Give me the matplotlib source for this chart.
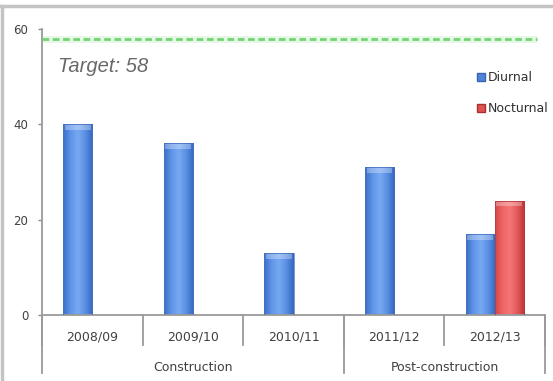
import numpy as np
import matplotlib
matplotlib.use("Agg")
import matplotlib.pyplot as plt
from matplotlib.colors import LinearSegmentedColormap
from matplotlib.patches import Patch
from matplotlib.lines import Line2D

# Datos del gráfico
seasons = ["2008/09", "2009/10", "2010/11", "2011/12", "2012/13"]
phases = ["Construction", "Post-construction"]
phase_span = [3, 2]  # número de temporadas en cada fase
diurnal = [40, 36, 13, 31, 17]
nocturnal = [np.nan, np.nan, np.nan, np.nan, 24]
target = 58

plt.rcParams['font.family'] = ['DejaVu Sans']

fig = plt.figure(figsize=(5.53, 3.81), dpi=100)
ax = fig.add_axes([0.076, 0.1732, 0.9095, 0.7507])

x = np.arange(len(seasons))
width = 0.29

blue_cmap = LinearSegmentedColormap.from_list(
    "azul", ["#3a6ec9", "#5f95e8", "#78a9f2", "#5a8fe2", "#3467c0"])
red_cmap = LinearSegmentedColormap.from_list(
    "rojo", ["#d24848", "#ef6464", "#f47676", "#e55858", "#b83434"])


def gradient_bars(bars, cmap):
    # Relleno con degradado horizontal recortado a cada barra
    grad = np.linspace(0, 1, 64).reshape(1, -1)
    for b in bars:
        h = b.get_height()
        if not np.isfinite(h) or h <= 0:
            continue
        x0 = b.get_x()
        w = b.get_width()
        im = ax.imshow(grad, cmap=cmap, aspect="auto",
                       extent=[x0, x0 + w, 0, h], zorder=2)
        im.set_clip_path(b)
        # brillo en la parte superior
        cap = min(1.2, h * 0.3)
        ax.fill_between([x0 + w * 0.06, x0 + w * 0.94], h - cap, h - 0.2,
                        color="white", alpha=0.3, lw=0, zorder=3)


bars_d = ax.bar(x - width / 2, diurnal, width, color="none",
                edgecolor="#4a72b8", linewidth=0.5, zorder=4)
bars_n = ax.bar(x + width / 2, nocturnal, width, color="none",
                edgecolor="#b03a3a", linewidth=0.5, zorder=4)
gradient_bars(bars_d, blue_cmap)
gradient_bars(bars_n, red_cmap)

# Línea de objetivo
ax.axhline(target, xmin=0, xmax=0.985, color="#d4f4d4", lw=5,
           alpha=0.6, zorder=1, solid_capstyle="butt")
ax.axhline(target, xmin=0, xmax=0.985, color="#72d472", lw=2,
           linestyle=(0, (2.4, 1.3)), zorder=5)
ax.text(-0.34, target - 7, f"Target: {target}", fontsize=14.5,
        style="italic", color="#686868", family="Liberation Sans",
        va="baseline", ha="left")

ax.set_xlim(-0.5, len(seasons) - 0.5)
ax.set_ylim(0, 60)
ax.set_yticks([0, 20, 40, 60])
ax.set_xticks([])
ax.tick_params(axis="y", direction="out", length=3, width=1,
               color="#909090", labelsize=8.5, labelcolor="#404040", pad=7)
for s in ["top", "right"]:
    ax.spines[s].set_visible(False)
for s in ["left", "bottom"]:
    ax.spines[s].set_color("#9a9a9a")
    ax.spines[s].set_linewidth(1.3)

# Etiquetas de eje en dos niveles
trans = ax.get_xaxis_transform()
for i, s in enumerate(seasons):
    ax.text(i, -0.077, s, transform=trans, ha="center", va="center",
            fontsize=9, color="#404040")
for b in np.arange(len(seasons) + 1) - 0.5:
    ax.add_line(Line2D([b, b], [0, -0.105], transform=trans,
                       color="#9a9a9a", lw=1.3, clip_on=False))
edges = np.concatenate([[0], np.cumsum(phase_span)]) - 0.5
for k, p in enumerate(phases):
    mid = (edges[k] + edges[k + 1]) / 2
    ax.text(mid, -0.182, p, transform=trans, ha="center", va="center",
            fontsize=9, color="#404040")
for b in edges:
    ax.add_line(Line2D([b, b], [0, -0.203], transform=trans,
                       color="#9a9a9a", lw=1.3, clip_on=False))

# Leyenda
handles = [Patch(facecolor="#4f84d8", edgecolor="#3a64b0"),
           Patch(facecolor="#e05252", edgecolor="#a83030")]
fig.legend(handles, ["Diurnal", "Nocturnal"], loc="upper left",
           bbox_to_anchor=(0.852, 0.83), frameon=False, fontsize=9,
           handlelength=0.6, handleheight=0.6, handletextpad=0.25,
           labelspacing=1.45, borderpad=0, labelcolor="#303030")

# Marco gris (arriba e izquierda)
fig.add_artist(Line2D([0, 1], [0.983, 0.983], transform=fig.transFigure,
                      color="#c4c4c4", lw=2.5))
fig.add_artist(Line2D([0.004, 0.004], [0, 0.983], transform=fig.transFigure,
                      color="#c4c4c4", lw=2.5))

fig.savefig("out.png", dpi=100)
